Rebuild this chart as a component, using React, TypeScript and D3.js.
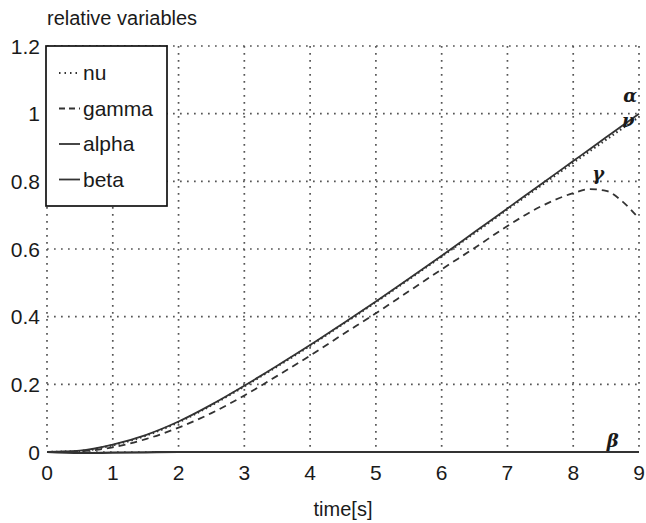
import React from "react";
import * as d3 from "d3";

// time axis samples [s]
const time = [0, 0.5, 1, 1.5, 2, 2.5, 3, 3.5, 4, 4.5, 5, 5.5, 6, 6.5, 7, 7.5, 8, 8.25, 8.5, 8.75, 9];
const alpha = [0, 0.004, 0.022, 0.05, 0.09, 0.14, 0.196, 0.255, 0.316, 0.38, 0.445, 0.512, 0.58, 0.65, 0.72, 0.79, 0.86, 0.895, 0.93, 0.965, 1.0];
const nu = [0, 0.003, 0.02, 0.048, 0.088, 0.138, 0.194, 0.253, 0.314, 0.378, 0.443, 0.51, 0.578, 0.647, 0.717, 0.786, 0.855, 0.889, 0.923, 0.957, 0.99];
const gamma = [0, 0.002, 0.014, 0.038, 0.072, 0.115, 0.167, 0.225, 0.285, 0.348, 0.41, 0.475, 0.54, 0.603, 0.668, 0.725, 0.765, 0.777, 0.772, 0.74, 0.69];
const beta = [0, -0.003, -0.002, -0.001, 0, 0, 0, 0, 0, 0, 0, 0, 0, 0, 0, 0, 0, 0, 0, 0, 0];

const xTicks = [0, 1, 2, 3, 4, 5, 6, 7, 8, 9];
const yTicks = [0, 0.2, 0.4, 0.6, 0.8, 1, 1.2];
const legendNames = ["nu", "gamma", "alpha", "beta"];
const legendDash = ["1.5 4", "6 4", "none", "none"];

const W = 646;
const H = 523;
const left = 47;
const right = 639;
const top = 46;
const bottom = 452;
const font = "'Liberation Sans', Arial, Helvetica, sans-serif";
const ink = "#1a1a1a";

export default function App() {
  const x = d3.scaleLinear().domain([0, 9]).range([left, right]);
  const y = d3.scaleLinear().domain([0, 1.2]).range([bottom, top]);
  const line = (vals: number[]) =>
    d3
      .line<number>()
      .x((_, i) => x(time[i]))
      .y((v) => y(v))
      .curve(d3.curveMonotoneX)(vals) as string;

  return (
    <svg
      width={W}
      height={H}
      style={{ position: "absolute", left: 0, top: 0, background: "#fff" }}
      fontFamily={font}
    >
      <rect x={0} y={0} width={W} height={H} fill="#fff" />
      {/* dotted grid */}
      {xTicks.map((t) => (
        <line key={"gx" + t} x1={x(t)} x2={x(t)} y1={top} y2={bottom} stroke="#555" strokeWidth={1.7} strokeDasharray="1.7 5.3" />
      ))}
      {yTicks.map((t) => (
        <line key={"gy" + t} x1={left} x2={right} y1={y(t)} y2={y(t)} stroke="#555" strokeWidth={1.7} strokeDasharray="1.7 5.3" />
      ))}
      {/* tick labels */}
      {xTicks.map((t) => (
        <text key={"tx" + t} x={x(t)} y={480} textAnchor="middle" fontSize={21} fill={ink}>
          {t}
        </text>
      ))}
      {yTicks.map((t) => (
        <text key={"ty" + t} x={40} y={y(t) + 7.5} textAnchor="end" fontSize={21} fill={ink}>
          {String(t)}
        </text>
      ))}
      <text x={47} y={25} fontSize={20} fill={ink}>relative variables</text>
      <text x={(left + right) / 2} y={516} textAnchor="middle" fontSize={20} fill={ink}>time[s]</text>

      {/* curves */}
      <path d={line(beta)} fill="none" stroke="#333" strokeWidth={2.2} />
      <path d={line(gamma)} fill="none" stroke="#333" strokeWidth={1.8} strokeDasharray="7 5" />
      <path d={line(alpha)} fill="none" stroke="#333" strokeWidth={1.8} />
      <path d={line(nu)} fill="none" stroke="#333" strokeWidth={2.2} strokeDasharray="1.5 3" />

      {/* curve labels */}
      <g fontFamily="'DejaVu Serif', serif" fontStyle="italic" fontWeight="bold" fontSize={18} fill={ink}>
        <text x={x(8.97)} y={y(1.035)} textAnchor="end">α</text>
        <text x={x(8.93)} y={y(0.96)} textAnchor="end">ν</text>
        <text x={x(8.38)} y={y(0.805)} textAnchor="middle">γ</text>
        <text x={x(8.6)} y={y(0.015)} textAnchor="middle">β</text>
      </g>

      {/* legend */}
      <rect x={46} y={46} width={121} height={160} fill="#fff" stroke="#111" strokeWidth={1.7} />
      {legendNames.map((n, i) => {
        const cy = 73 + i * 35.5;
        return (
          <g key={n}>
            <line x1={59} x2={80} y1={cy} y2={cy} stroke="#333" strokeWidth={1.8} strokeDasharray={legendDash[i]} />
            <text x={83} y={cy + 7} fontSize={21} fill={ink}>{n}</text>
          </g>
        );
      })}
    </svg>
  );
}
